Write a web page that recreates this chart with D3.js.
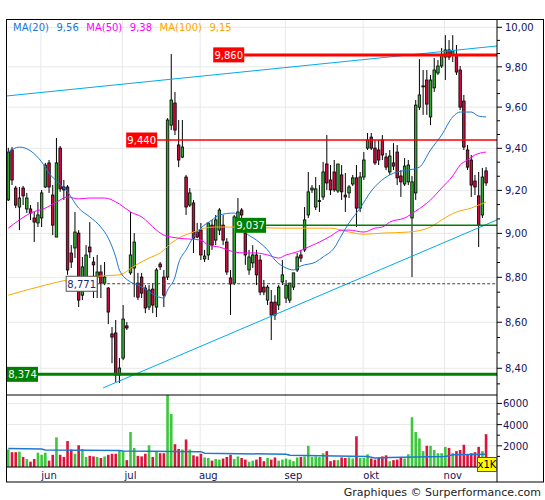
<!DOCTYPE html>
<html><head><meta charset="utf-8">
<script src="https://cdn.jsdelivr.net/npm/d3@7"></script>
<style>body{margin:0;background:#fff} text{font-family:"DejaVu Sans",Verdana,sans-serif}</style>
</head><body><svg id="c" width="545" height="500"></svg>
<script>
// ---------------- DATA ----------------
const firstDay = "2023-05-19", lastDay = "2023-11-16";
const open = [9.155,9.392,9.211,9.122,9.211,9.113,9.113,9.071,9.048,9.071,9.216,9.330,9.178,8.983,9.401,9.216,9.216,8.910,8.933,9.001,
8.720,8.756,8.937,8.869,8.801,8.824,8.774,8.752,8.549,8.553,8.371,8.444,8.584,8.820,8.842,8.774,8.801,8.752,8.667,8.747,
8.667,8.860,8.801,8.801,9.512,9.620,9.416,9.358,9.263,9.131,9.141,9.006,9.015,8.883,8.901,9.038,8.969,9.015,9.038,8.960,
8.797,8.774,9.038,9.108,9.001,8.833,8.865,8.901,8.878,8.756,8.698,8.689,8.689,8.676,8.779,8.707,8.698,8.756,8.833,8.901,
8.924,9.085,9.202,9.122,9.150,9.169,9.325,9.249,9.287,9.197,9.273,9.178,9.188,9.230,9.259,9.117,9.263,9.401,9.454,9.401,
9.392,9.440,9.358,9.287,9.330,9.382,9.268,9.230,9.240,9.071,9.188,9.600,9.700,9.734,9.552,9.695,9.769,9.804,9.849,9.885,
9.860,9.860,9.784,9.630,9.392,9.344,9.244,9.174,9.085,9.292];
const high = [9.402,9.406,9.221,9.216,9.221,9.188,9.131,9.099,9.145,9.202,9.330,9.344,9.225,9.450,9.411,9.249,9.225,8.946,9.099,9.015,
8.892,8.946,9.052,8.892,8.901,8.856,8.869,8.756,8.579,8.610,8.444,8.676,8.601,9.099,9.001,8.820,8.820,8.765,8.765,8.774,
8.842,8.869,8.833,9.546,9.864,9.675,9.537,9.537,9.273,9.211,9.155,9.048,9.048,8.924,9.048,9.062,9.085,9.117,9.085,8.978,
8.833,9.085,9.164,9.117,9.024,8.924,8.946,8.924,8.901,8.788,8.765,8.743,8.720,8.765,8.878,8.788,8.774,8.811,8.910,8.924,
9.122,9.287,9.225,9.263,9.225,9.335,9.464,9.320,9.344,9.325,9.320,9.282,9.225,9.273,9.320,9.287,9.382,9.474,9.474,9.440,
9.440,9.464,9.378,9.392,9.425,9.416,9.296,9.353,9.344,9.268,9.635,9.839,9.784,9.784,9.759,9.844,9.834,9.895,9.960,9.935,
9.960,9.910,9.804,9.660,9.416,9.368,9.273,9.287,9.306,9.310];
const low = [9.150,9.225,9.117,9.015,9.131,9.094,9.062,8.960,9.029,9.029,9.211,9.188,8.992,8.983,9.193,9.155,8.811,8.842,8.887,8.667,
8.698,8.743,8.887,8.707,8.707,8.707,8.765,8.592,8.422,8.341,8.337,8.435,8.566,8.811,8.711,8.698,8.707,8.640,8.654,8.640,
8.623,8.833,8.667,8.788,9.488,9.464,9.310,9.353,9.085,9.122,8.910,8.978,8.878,8.869,8.878,8.924,8.946,8.992,8.946,8.811,
8.632,8.765,9.015,9.024,8.856,8.811,8.842,8.765,8.720,8.720,8.676,8.522,8.610,8.654,8.765,8.685,8.685,8.743,8.824,8.869,
8.915,9.071,9.188,9.108,9.099,9.155,9.202,9.178,9.193,9.188,9.155,9.099,9.164,9.221,9.029,9.099,9.249,9.392,9.392,9.320,
9.320,9.344,9.296,9.273,9.296,9.225,9.169,9.221,9.225,8.801,9.155,9.586,9.562,9.562,9.512,9.675,9.759,9.794,9.734,9.834,
9.824,9.759,9.586,9.392,9.296,9.169,9.178,8.937,9.071,9.221];
const close = [9.382,9.249,9.131,9.164,9.174,9.164,9.094,9.052,9.085,9.188,9.320,9.216,9.038,9.330,9.207,9.202,8.833,8.869,9.006,8.698,
8.847,8.901,8.915,8.856,8.824,8.774,8.801,8.645,8.535,8.371,8.401,8.614,8.575,8.901,8.960,8.711,8.729,8.663,8.743,8.676,
8.833,8.847,8.720,9.537,9.635,9.488,9.344,9.406,9.122,9.188,8.978,8.983,8.901,8.896,9.048,8.946,9.062,9.108,8.969,8.824,
8.770,9.076,9.099,9.085,8.901,8.892,8.901,8.811,8.734,8.734,8.756,8.632,8.632,8.756,8.811,8.765,8.774,8.820,8.892,8.887,
9.062,9.193,9.211,9.207,9.152,9.287,9.235,9.202,9.202,9.325,9.193,9.169,9.216,9.259,9.117,9.263,9.344,9.440,9.401,9.330,
9.344,9.368,9.310,9.363,9.315,9.259,9.240,9.315,9.320,9.240,9.610,9.660,9.705,9.615,9.734,9.784,9.804,9.860,9.885,9.849,
9.880,9.774,9.600,9.406,9.310,9.225,9.216,9.038,9.263,9.235];
const volume = [1650,1400,1400,1450,950,750,500,750,1350,1150,1350,600,1150,2800,1150,950,2450,1650,1250,2050,
1700,950,1050,1000,950,850,1000,1150,1250,1250,1550,1500,650,3300,1800,1050,1000,1250,2050,950,
1450,1300,1300,6800,5000,2150,1700,1650,2600,1650,1100,1000,1250,900,850,600,750,700,800,950,
1150,750,1000,850,700,500,600,700,950,550,850,700,900,600,700,800,700,550,900,950,
1000,2000,950,1000,950,1300,1500,550,650,650,900,850,900,800,2900,850,850,1200,800,700,
850,1000,1100,550,650,700,950,800,1200,4700,3300,2700,1500,2000,2000,1600,1300,1300,1900,1800,
1300,1500,1600,2100,1200,1300,1400,1900,1500,3100];
// moving averages at sample candles
const ma20Idx = [0,3,9,11,16,19,22,25,27,29,30,33,35,37,39,42,43,45,46,48,50,52,55,57,61,64,67,70,72,75,77,79,83,85,88,90,92,95,98,100,103,105,108,111,114,117,120,122,125,127,129];
const ma20Val = [9.382,9.406,9.335,9.282,9.193,9.117,9.076,9.029,8.978,8.892,8.833,8.779,8.765,8.747,8.725,8.707,8.743,8.801,8.865,8.924,8.983,9.024,9.062,9.085,9.094,9.006,8.969,8.924,8.878,8.842,8.833,8.851,8.869,8.892,8.933,8.992,9.048,9.117,9.197,9.235,9.273,9.287,9.296,9.310,9.392,9.464,9.552,9.576,9.576,9.556,9.552];
const ma50Idx = [0,3,6,10,13,16,19,22,26,30,33,36,40,42,46,52,54,57,61,64,67,70,73,75,78,81,84,87,90,92,96,99,101,103,107,110,114,117,120,122,124,126,129];
const ma50Val = [9.024,9.062,9.094,9.117,9.145,9.169,9.160,9.164,9.164,9.136,9.099,9.076,9.015,8.992,8.978,8.969,8.946,8.937,8.915,8.910,8.910,8.901,8.887,8.901,8.915,8.937,8.960,8.987,9.015,9.015,9.006,9.024,9.029,9.052,9.071,9.103,9.155,9.211,9.268,9.320,9.344,9.368,9.382];
const ma100Idx = [0,5,10,16,22,25,30,34,38,41,44,47,50,52,56,61,73,87,91,96,101,108,114,117,121,125,127,129];
const ma100Val = [8.720,8.743,8.765,8.788,8.801,8.806,8.811,8.851,8.887,8.910,8.955,8.987,9.006,9.020,9.029,9.029,9.024,9.024,9.010,8.996,9.001,9.006,9.029,9.062,9.099,9.117,9.131,9.145];
const volMaIdx = [0,9,10,30,31,52,53,75,76,97,99,103,110,118,120,129];
const volMaVal = [1750,1700,1600,1550,1500,1450,1300,1200,1100,1000,850,900,950,1000,1150,1200];
const legendNames = ["MA(20)","MA(50)","MA(100)"];
const legendValues = ["9,56","9,38","9,15"];
const levels = [9.860, 9.440, 9.037, 8.374, 8.771];
const levelStart = [63.7, 40.2, 69.6, -0.35, 24.0];
const trendUpper = [[-0.35, 9.655],[131.95, 9.905]];
const trendLower = [[25.6, 8.316],[131.95, 9.062]];
const priceTicks = [8.4,8.6,8.8,9.0,9.2,9.4,9.6,9.8,10.0];
const volTicks = [2000,4000,6000];
const monthNames = ["jun","jul","aug","sep","okt","nov"];

// ---------------- LAYOUT ----------------
const L=7, R=497, T=19.5, MB=395, VB=467, FB=482;
const svg = d3.select("#c");
const N = close.length;
const days=[]; {let d=new Date(firstDay+"T00:00:00Z"); const e=new Date(lastDay+"T00:00:00Z");
 while(d<=e){const w=d.getUTCDay(); if(w!==0&&w!==6) days.push(new Date(d)); d=new Date(d.getTime()+864e5);} }
const x = d3.scaleLinear().domain([-0.35, 131.95]).range([L, R]);
const y = d3.scaleLog().domain([8.286, 10.04]).range([MB, T]);
const yv = d3.scaleLinear().domain([0, 6700]).range([VB, 396]);
const fmt = v => d3.format(".2f")(v).replace(".", ",");
const fmt3 = v => d3.format(".3f")(v).replace(".", ",");

svg.append("rect").attr("width",545).attr("height",500).attr("fill","#fff");
const defs = svg.append("defs");
defs.append("clipPath").attr("id","cm").append("rect").attr("x",L).attr("y",T).attr("width",R-L).attr("height",MB-T);
defs.append("clipPath").attr("id","cv").append("rect").attr("x",L).attr("y",MB).attr("width",R-L).attr("height",VB-MB);

const monthStart = [];
days.forEach((d,i)=>{ if(i>0 && d.getUTCMonth()!==days[i-1].getUTCMonth()) monthStart.push(i); });
const grid = svg.append("g").attr("stroke","#e8e8e8").attr("stroke-width",1);
monthStart.forEach(i=>{ grid.append("line").attr("x1",x(i-0.2)).attr("x2",x(i-0.2)).attr("y1",T).attr("y2",VB); });
priceTicks.forEach(v=>{ grid.append("line").attr("x1",L).attr("x2",R).attr("y1",y(v)).attr("y2",y(v)); });
volTicks.forEach(v=>{ grid.append("line").attr("x1",L).attr("x2",R).attr("y1",yv(v)).attr("y2",yv(v)); });

const data = d3.range(N).map(i=>({i,o:open[i],h:high[i],l:low[i],c:close[i],v:volume[i]}));
const up = d => d.c >= d.o;

const gv = svg.append("g").attr("clip-path","url(#cv)");
gv.selectAll("rect").data(data).join("rect")
  .attr("x",d=>x(d.i)-1.3).attr("width",2.6)
  .attr("y",d=>yv(d.v)).attr("height",d=>VB-yv(d.v))
  .attr("fill",d=>up(d)?"#3cc83c":"#dc143c");
gv.append("path").datum(volMaIdx.map((k,j)=>[k,volMaVal[j]]))
  .attr("d",d3.line().x(d=>x(d[0])).y(d=>yv(d[1])))
  .attr("fill","none").attr("stroke","#1e78d2").attr("stroke-width",1.5);

const gm = svg.append("g").attr("clip-path","url(#cm)");
gm.selectAll("line.w").data(data).join("line").attr("class","w")
  .attr("x1",d=>x(d.i)).attr("x2",d=>x(d.i)).attr("y1",d=>y(d.h)).attr("y2",d=>y(d.l))
  .attr("stroke","#000").attr("stroke-width",1);
gm.selectAll("rect.b").data(data).join("rect").attr("class","b")
  .attr("x",d=>x(d.i)-1.25).attr("width",2.5)
  .attr("y",d=>y(Math.max(d.o,d.c))).attr("height",d=>Math.max(0.8,Math.abs(y(d.o)-y(d.c))))
  .attr("fill",d=>up(d)?"#32aa32":"#cc0a3c").attr("stroke","#000").attr("stroke-width",0.8);

const line = d3.line().curve(d3.curveMonotoneX).x(d=>x(d[0])).y(d=>y(d[1]));
[[ma100Idx,ma100Val,"#ffa500"],[ma50Idx,ma50Val,"#ff00ff"],[ma20Idx,ma20Val,"#1e78d2"]].forEach(([I,V,c])=>{
  gm.append("path").datum(I.map((k,j)=>[k,V[j]])).attr("d",line).attr("fill","none").attr("stroke",c).attr("stroke-width",1);
});
[trendUpper,trendLower].forEach(t=>{
  gm.append("line").attr("x1",x(t[0][0])).attr("y1",y(t[0][1])).attr("x2",x(t[1][0])).attr("y2",y(t[1][1]))
    .attr("stroke","#00aaee").attr("stroke-width",1);
});
const lvStyle = [
 {c:"#ff0000",w:3,box:"#ff0000",tc:"#fff"},
 {c:"#ff0000",w:1.5,box:"#ff0000",tc:"#fff"},
 {c:"#008000",w:1.5,box:"#008000",tc:"#fff"},
 {c:"#008000",w:3,box:"#008000",tc:"#fff"},
 {c:"#444",w:1,box:"#fff",tc:"#1a2a6a",dash:"3,2",stroke:"#555"}];
levels.forEach((v,k)=>{
  const s=lvStyle[k], yy=y(v);
  const bw=31, bh=15;
  const bx = k===3 ? x(levelStart[k]) : x(levelStart[k]) - bw;
  gm.append("line").attr("x1",k===3?L:bx+bw).attr("x2",R).attr("y1",yy).attr("y2",yy)
    .attr("stroke",s.c).attr("stroke-width",s.w).attr("stroke-dasharray",s.dash||null);
  svg.append("rect").attr("x",bx).attr("y",yy-bh/2).attr("width",bw).attr("height",bh)
    .attr("fill",s.box).attr("stroke",s.stroke||"none");
  svg.append("text").attr("x",bx+bw/2).attr("y",yy+4).attr("text-anchor","middle")
    .attr("font-size",10).attr("fill",s.tc).text(fmt3(v));
});

const legColors = ["#1e78d2","#ff00ff","#ffa500"];
let lx = 13;
legendNames.forEach((n,k)=>{
  const t1 = svg.append("text").attr("x",lx).attr("y",31).attr("font-size",10).attr("fill",legColors[k]).text(n);
  lx += t1.node().getComputedTextLength() + 7.5;
  const t2 = svg.append("text").attr("x",lx).attr("y",31).attr("font-size",10).attr("fill",legColors[k]).text(legendValues[k]);
  lx += t2.node().getComputedTextLength() + 7.5;
});

svg.append("line").attr("x1",L).attr("x2",R).attr("y1",MB).attr("y2",MB).attr("stroke","#000");
svg.append("line").attr("x1",L).attr("x2",R).attr("y1",VB).attr("y2",VB).attr("stroke","#000");
svg.append("line").attr("x1",R).attr("x2",R).attr("y1",T).attr("y2",FB).attr("stroke","#000");
svg.append("rect").attr("x",6.5).attr("y",T).attr("width",537).attr("height",FB-T).attr("fill","none").attr("stroke","#000");

const minor=[]; for(let k=0;k<priceTicks.length-1;k++){ for(let m=1;m<3;m++) minor.push(priceTicks[k]+(priceTicks[k+1]-priceTicks[k])*m/3); }
[8.2+0.2*2/3, 8.2+0.2*1/3].forEach(v=>{ if(y(v)<MB) minor.push(v); });
minor.push(10.0+0.2/3);
minor.forEach(v=>{ if(y(v)>T && y(v)<MB) svg.append("line").attr("x1",R).attr("x2",R+3).attr("y1",y(v)).attr("y2",y(v)).attr("stroke","#000"); });
priceTicks.forEach(v=>{
  svg.append("line").attr("x1",R).attr("x2",R+5).attr("y1",y(v)).attr("y2",y(v)).attr("stroke","#000");
  svg.append("text").attr("x",505).attr("y",y(v)+4).attr("font-size",10).attr("fill","#14145a").text(fmt(v));
});
[1000,3000,5000].forEach(v=>svg.append("line").attr("x1",R).attr("x2",R+3).attr("y1",yv(v)).attr("y2",yv(v)).attr("stroke","#000"));
volTicks.forEach(v=>{
  svg.append("line").attr("x1",R).attr("x2",R+5).attr("y1",yv(v)).attr("y2",yv(v)).attr("stroke","#000");
  svg.append("text").attr("x",503).attr("y",yv(v)+4).attr("font-size",10).attr("fill","#14145a").text(v);
});
svg.append("rect").attr("x",477.5).attr("y",457.5).attr("width",19).attr("height",14).attr("fill","#ffff00").attr("stroke","#555");
svg.append("text").attr("x",487).attr("y",468).attr("text-anchor","middle").attr("font-size",10).attr("fill","#000").text("x1K");
monthStart.forEach((i,k)=>{
  svg.append("text").attr("x",x(i+2)).attr("y",479).attr("text-anchor","middle").attr("font-size",10).attr("fill","#14145a").text(monthNames[k]);
});
svg.append("text").attr("x",541).attr("y",496).attr("text-anchor","end").attr("font-size",11).attr("fill","#222").text("Graphiques © Surperformance.com");
</script></body></html>
